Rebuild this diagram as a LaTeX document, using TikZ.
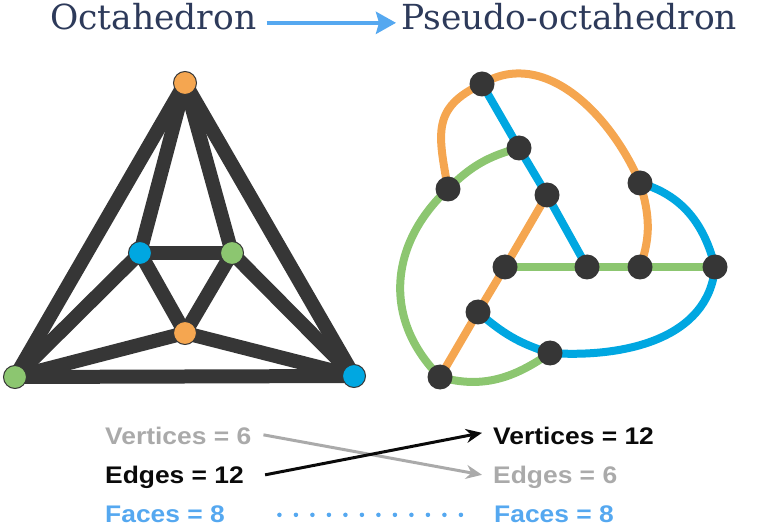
\documentclass[tikz,border=0pt]{standalone}
\usepackage{fontspec}
\usetikzlibrary{arrows.meta,backgrounds}
\newfontfamily\titlefont{DejaVu Serif}
\newfontfamily\statfont[FakeStretch=1.1]{Liberation Sans}
\definecolor{navy}{HTML}{2D3A5A}
\definecolor{octorange}{HTML}{F5A650}
\definecolor{octblue}{HTML}{00A7E1}
\definecolor{octgreen}{HTML}{8CC670}
\definecolor{edgedark}{HTML}{363636}
\definecolor{skyblue}{HTML}{55A8F0}
\definecolor{statgray}{HTML}{AAAAAA}
\definecolor{statblack}{HTML}{0A0A0A}

\begin{document}
\begin{tikzpicture}[
    x=1pt, y=1pt,
    title/.style={font=\titlefont\fontsize{34.5}{40}\selectfont, text=navy, inner sep=0pt, anchor=base west},
    stat/.style={font=\statfont\bfseries\fontsize{24}{28}\selectfont, inner sep=0pt, anchor=base west},
    vert/.style={circle, draw=edgedark, line width=1pt, minimum size=23pt, inner sep=0pt},
    dot/.style={circle, fill=edgedark, minimum size=25pt, inner sep=0pt},
    solidedge/.style={edgedark, line width=14pt, line cap=round},
    pseudo/.style={line width=8pt, line cap=round},
    sketch/.style={line width=3pt, -{Stealth[length=16pt,width=14pt]}}
  ]
    \useasboundingbox (0,0) rectangle (760,-526);

    % Titles
    \node[title] (oct) at (50,-30) {Octahedron};
    \node[title] (ps) at (401,-30) {Pseudo-octahedron};
    \draw[skyblue, line width=4pt, -{Stealth[length=20pt,width=22pt,inset=3pt]}]
      ([xshift=10pt,yshift=5pt]oct.mid east) -- ([xshift=-5pt,yshift=5pt]ps.mid west);

    % Octahedron
    \node[vert, fill=octorange] (t) at (185,-83) {};
    \node[vert, fill=octgreen] (bl) at (15,-377) {};
    \node[vert, fill=octblue] (br) at (354,-376) {};
    \node[vert, fill=octblue] (il) at (140,-253) {};
    \node[vert, fill=octgreen] (ir) at (232,-253) {};
    \node[vert, fill=octorange] (ib) at (185,-333) {};
    \begin{scope}[on background layer]
      \foreach \a/\b in {t/bl,t/br,t/il,t/ir,bl/br,bl/il,bl/ib,br/ir,br/ib,il/ir,il/ib,ir/ib}
        \draw[solidedge] (\a.center) -- (\b.center);
    \end{scope}

    % Pseudo-octahedron
    \node[dot] (v1) at (482,-84) {};
    \node[dot] (v2) at (519,-148) {};
    \node[dot] (v3) at (448,-189) {};
    \node[dot] (v4) at (547,-195) {};
    \node[dot] (v5) at (640,-183) {};
    \node[dot] (v6) at (505,-267) {};
    \node[dot] (v7) at (587,-267) {};
    \node[dot] (v8) at (640,-267) {};
    \node[dot] (v9) at (715,-267) {};
    \node[dot] (v10) at (478,-312) {};
    \node[dot] (v11) at (550,-353) {};
    \node[dot] (v12) at (440,-377) {};
    \begin{scope}[on background layer]
      % straight edges
      \draw[pseudo, octblue] (v1.center) -- (v2.center) -- (v4.center) -- (v7.center);
      \draw[pseudo, octorange] (v4.center) -- (v6.center) -- (v10.center) -- (v12.center);
      \draw[pseudo, octgreen] (v6.center) -- (v7.center) -- (v8.center) -- (v9.center);
      % curved edges
      \draw[pseudo, octorange] (v1.center) to[out=205, in=100, looseness=1.3] (v3.center);
      \draw[pseudo, octorange] (v1.center) to[out=31, in=113] (v5.center);
      \draw[pseudo, octorange] (v5.center) to[out=-73, in=70] (v8.center);
      \draw[pseudo, octgreen] (v3.center) to[out=45, in=195] (v2.center);
      \draw[pseudo, octgreen] (v3.center) to[out=223, in=135, looseness=1.1] (v12.center);
      \draw[pseudo, octgreen] (v12.center) to[out=-16, in=215] (v11.center);
      \draw[pseudo, octblue] (v5.center) to[out=-16, in=104] (v9.center);
      \draw[pseudo, octblue] (v9.center) to[out=265, in=-4] (v11.center);
      \draw[pseudo, octblue] (v11.center) to[out=163, in=-41] (v10.center);
    \end{scope}

    % Counts
    \node[stat, text=statgray] (vl) at (105,-444) {Vertices = 6};
    \node[stat, text=statblack] (el) at (105,-483) {Edges = 12};
    \node[stat, text=skyblue] (fl) at (105,-522) {Faces = 8};
    \node[stat, text=statblack] (vr) at (493,-444) {Vertices = 12};
    \node[stat, text=statgray] (er) at (493,-483) {Edges = 6};
    \node[stat, text=skyblue] (fr) at (494,-522) {Faces = 8};

    \draw[sketch, statgray] ([xshift=12pt,yshift=7pt]vl.mid east) -- ([xshift=-11pt,yshift=6pt]er.mid west);
    \draw[sketch, statblack] ([xshift=21pt,yshift=6pt]el.mid east) -- ([xshift=-11pt,yshift=9pt]vr.mid west);
    \draw[skyblue, line width=4.5pt, line cap=round, dash pattern=on 0pt off 16.5pt]
      ([xshift=54.4pt,yshift=5pt]fl.mid east) -- ([xshift=-16.9pt,yshift=5pt]fr.mid west);
\end{tikzpicture}
\end{document}
